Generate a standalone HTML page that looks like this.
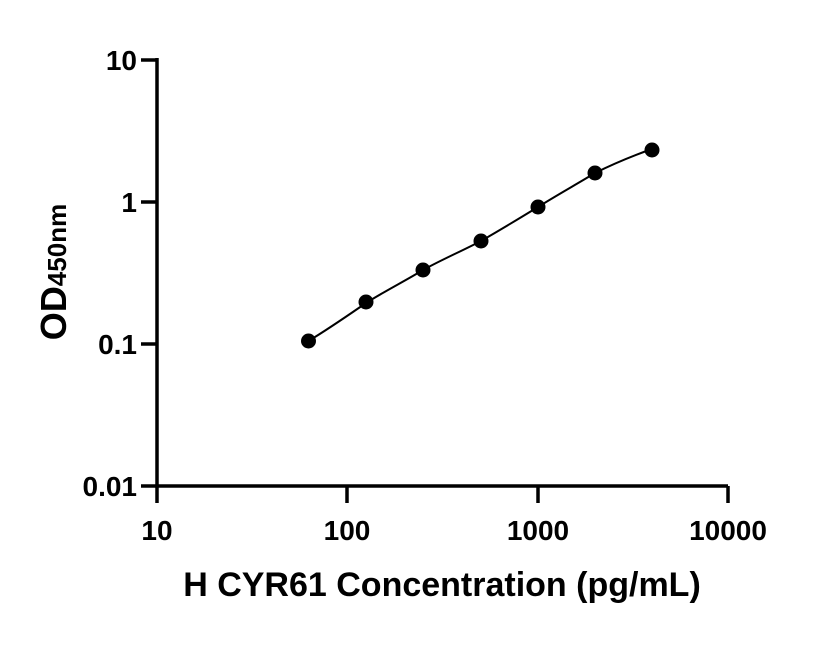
<!DOCTYPE html>
<html><head><meta charset="utf-8"><style>body{margin:0;background:#fff}</style></head><body>
<svg width="816" height="640" xmlns="http://www.w3.org/2000/svg" font-family="Liberation Sans, Arial, sans-serif" font-weight="bold">
<g stroke="#000" stroke-width="3.5" fill="none">
<path d="M157,58 V486 H728"/>
<path d="M141,60 H157 M141,202 H157 M141,344 H157 M141,486 H157"/>
<path d="M157,486 V503 M347,486 V503 M538,486 V503 M728,486 V503"/>
</g>
<path d="M308.5,341 C330,328 350,314 366,303 C385,291 405,281 423,270 C443,259 462,251 481,241 C500,230 520,218 538,207 C557,195 577,184 595,173 C615,163 635,155 652,149" stroke="#000" stroke-width="2" fill="none"/>
<g fill="#000">
<circle cx="308.5" cy="341" r="7.5"/><circle cx="366" cy="302" r="7.5"/><circle cx="423" cy="270" r="7.5"/>
<circle cx="481" cy="241" r="7.5"/><circle cx="538" cy="207" r="7.5"/><circle cx="595" cy="173" r="7.5"/>
<circle cx="652" cy="150" r="7.5"/>
</g>
<g font-size="28" text-anchor="end">
<text x="137" y="70">10</text><text x="137" y="212">1</text><text x="137" y="354">0.1</text><text x="137" y="496">0.01</text>
</g>
<g font-size="28" text-anchor="middle">
<text x="157" y="540">10</text><text x="347" y="540">100</text><text x="538" y="540">1000</text><text x="728" y="540">10000</text>
</g>
<text x="442" y="596" font-size="34" text-anchor="middle">H CYR61 Concentration (pg/mL)</text>
<text transform="translate(66,272) rotate(-90)" font-size="36" text-anchor="middle">OD<tspan font-size="26">450nm</tspan></text>
</svg>
</body></html>
